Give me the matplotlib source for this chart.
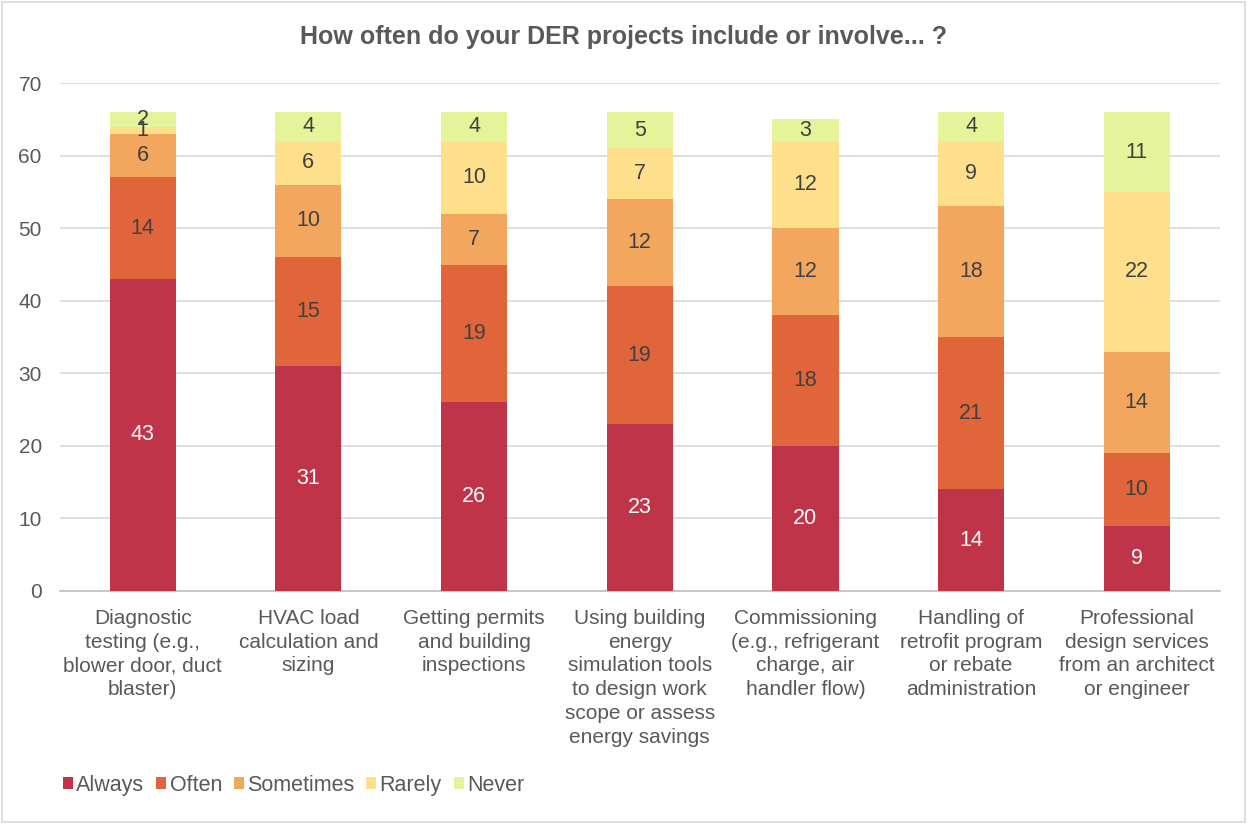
import matplotlib
matplotlib.use("Agg")
import matplotlib.pyplot as plt
import numpy as np

plt.rcParams["font.family"] = ["Liberation Sans", "DejaVu Sans"]

categories = [
    "Diagnostic\ntesting (e.g.,\nblower door, duct\nblaster)",
    "HVAC load\ncalculation and\nsizing",
    "Getting permits\nand building\ninspections",
    "Using building\nenergy\nsimulation tools\nto design work\nscope or assess\nenergy savings",
    "Commissioning\n(e.g., refrigerant\ncharge, air\nhandler flow)",
    "Handling of\nretrofit program\nor rebate\nadministration",
    "Professional\ndesign services\nfrom an architect\nor engineer",
]
always = [43, 31, 26, 23, 20, 14, 9]
often = [14, 15, 19, 19, 18, 21, 10]
sometimes = [6, 10, 7, 12, 12, 18, 14]
rarely = [1, 6, 10, 7, 12, 9, 22]
never = [2, 4, 4, 5, 3, 4, 11]

series = [
    ("Always", always, "#C0344A", "white"),
    ("Often", often, "#E0653A", "#404040"),
    ("Sometimes", sometimes, "#F2A65E", "#404040"),
    ("Rarely", rarely, "#FEDF8C", "#404040"),
    ("Never", never, "#E5F49A", "#404040"),
]

fig = plt.figure(figsize=(12.47, 8.24), dpi=100)
ax = fig.add_axes([0.048, 0.283, 0.930, 0.616])

x = np.arange(len(categories))
bottom = np.zeros(len(categories))
for name, vals, color, tcolor in series:
    vals = np.array(vals, dtype=float)
    ax.bar(x, vals, 0.4, bottom=bottom, color=color, label=name, zorder=3)
    for xi, b, v in zip(x, bottom, vals):
        ax.text(xi, b + v / 2, f"{int(v)}", ha="center", va="center",
                fontsize=15.5, color=tcolor, zorder=4)
    bottom += vals

ax.set_xlim(-0.5, len(categories) - 0.5)
ax.set_ylim(0, 70)
ax.set_yticks(range(0, 71, 10))
ax.yaxis.grid(True, color="#D9D9D9", linewidth=1.2, zorder=0)
for s in ["top", "right", "left"]:
    ax.spines[s].set_visible(False)
ax.spines["bottom"].set_color("#BFBFBF")
ax.spines["bottom"].set_linewidth(1.2)
ax.tick_params(axis="both", length=0, labelsize=15, labelcolor="#595959")
ax.tick_params(axis="y", pad=13)
ax.set_xticks(x)
ax.set_xticklabels(categories, linespacing=1.32, va="top")
ax.tick_params(axis="x", pad=13)

fig.text(0.5, 0.955, "How often do your DER projects include or involve... ?",
         ha="center", va="center", fontsize=18, fontweight="bold", color="#595959")

leg = fig.legend(loc="center left", bbox_to_anchor=(0.0505, 0.047), ncol=5,
                 frameon=False, fontsize=15.5, handlelength=0.47, handleheight=0.47,
                 handletextpad=0.15, columnspacing=0.55, borderaxespad=0,
                 borderpad=0)
for t in leg.get_texts():
    t.set_color("#595959")

fig.patches.append(plt.Rectangle((0.0015, 0.002), 0.997, 0.996, transform=fig.transFigure,
                                 fill=False, edgecolor="#D9D9D9", linewidth=1.2))

fig.savefig("out.png", dpi=100)
